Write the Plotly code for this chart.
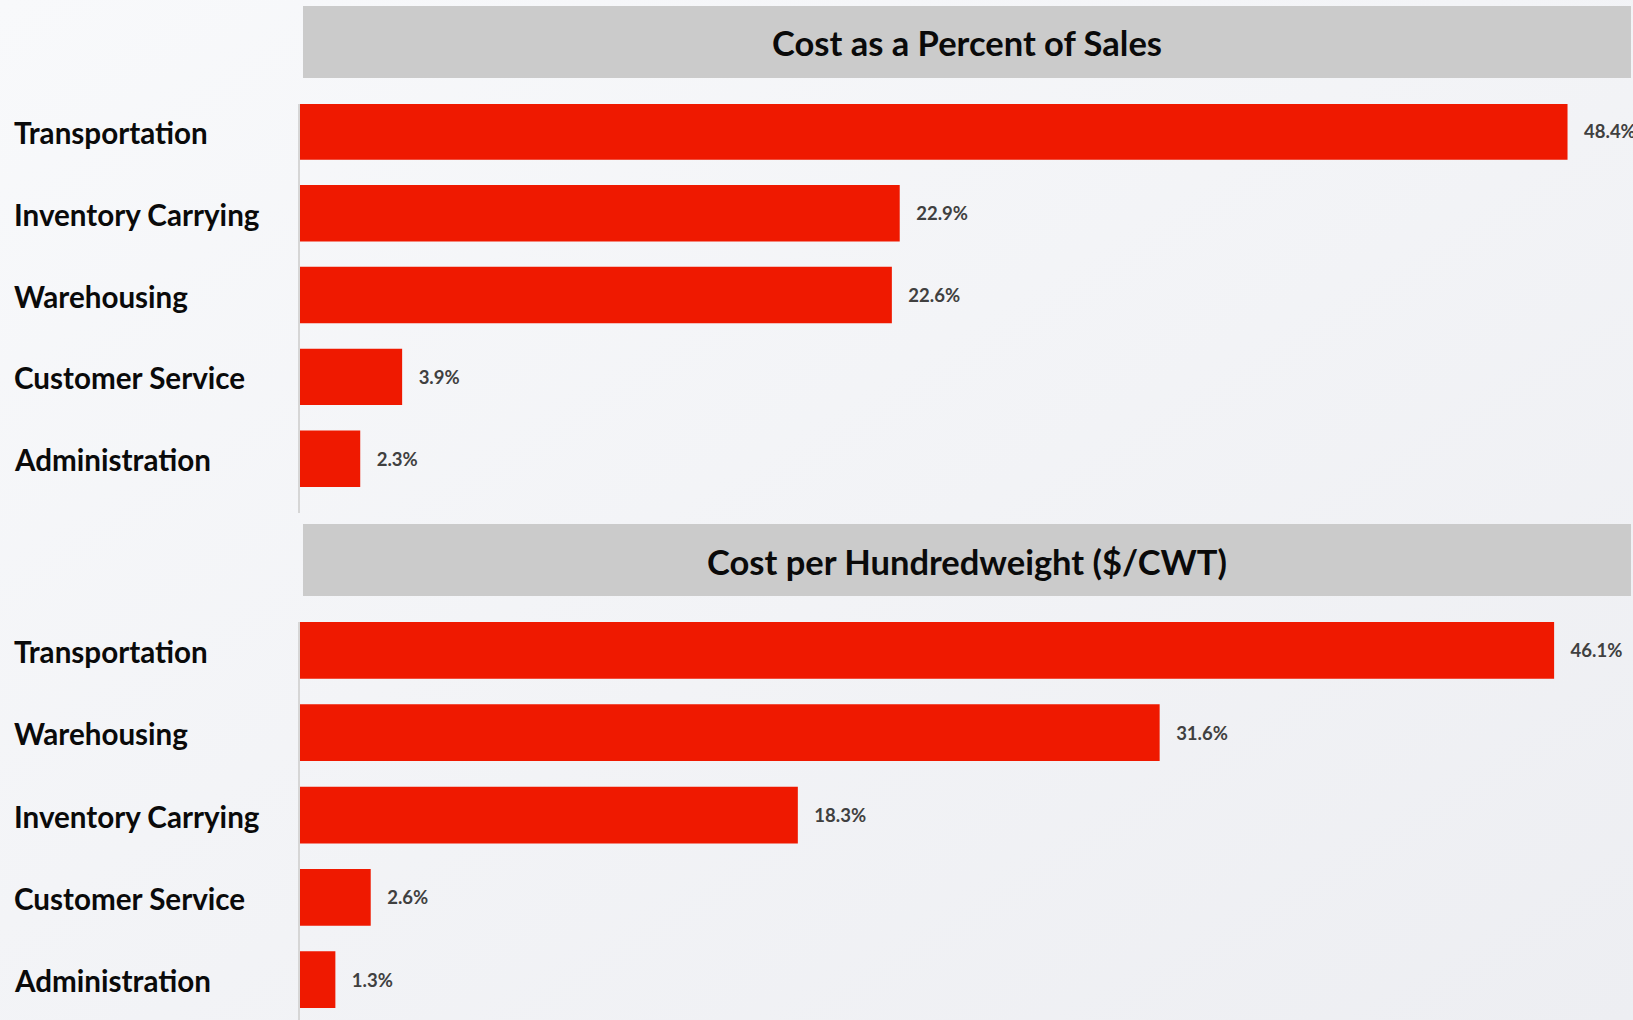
import plotly.graph_objects as go

W, H = 1633, 1020

top_title = "Cost as a Percent of Sales"
top_categories = ["Transportation", "Inventory Carrying", "Warehousing", "Customer Service", "Administration"]
top_values = [48.4, 22.9, 22.6, 3.9, 2.3]

bottom_title = "Cost per Hundredweight ($/CWT)"
bottom_categories = ["Transportation", "Warehousing", "Inventory Carrying", "Customer Service", "Administration"]
bottom_values = [46.1, 31.6, 18.3, 2.6, 1.3]

BAR_COLOR = "#EF1900"
BG = "#F3F4F7"
FONT = "Lato"

BG_SVG = (
    "data:image/svg+xml;utf8,"
    "<svg xmlns='http://www.w3.org/2000/svg' width='100' height='100' preserveAspectRatio='none'>"
    "<defs><linearGradient id='g' x1='0' y1='0' x2='1' y2='1'>"
    "<stop offset='0' stop-color='%23F8F9FB'/><stop offset='1' stop-color='%23EDEEF2'/>"
    "</linearGradient></defs><rect width='100' height='100' fill='url(%23g)'/></svg>"
)


def px(x):
    return x / W


def py(y):
    return 1 - y / H


fig = go.Figure()

for cats, vals, xa, ya in [
    (top_categories, top_values, "x", "y"),
    (bottom_categories, bottom_values, "x2", "y2"),
]:
    fig.add_trace(go.Bar(
        y=cats, x=vals, orientation="h",
        marker=dict(color=BAR_COLOR, line=dict(width=0)),
        texttemplate="\u00a0\u00a0\u00a0%{x:.1f}%", textposition="outside",
        textfont=dict(family=FONT, size=18.5, color="#404040", weight="bold"),
        cliponaxis=False, constraintext="none",
        xaxis=xa, yaxis=ya, showlegend=False, hoverinfo="skip",
    ))

axis_common_x = dict(visible=False, showgrid=False, zeroline=False, fixedrange=True)
axis_common_y = dict(type="category", showticklabels=False, showgrid=False, zeroline=False,
                     ticks="", showline=True, linecolor="#D6D6D6", linewidth=2, fixedrange=True)

annotations = []
shapes = []

for cats, title, yref, ttop, tbot in [
    (top_categories, top_title, "y", 6, 78),
    (bottom_categories, bottom_title, "y2", 524, 596),
]:
    for c in cats:
        annotations.append(dict(
            x=px(12), xref="paper", xanchor="left", y=c, yref=yref, yanchor="middle",
            yshift=-1,
            text=c, showarrow=False,
            font=dict(family=FONT, size=29.6, color="#0A0A0A", weight="bold"),
        ))
    shapes.append(dict(type="rect", xref="paper", yref="paper",
                       x0=px(303), x1=px(1631), y0=py(tbot), y1=py(ttop),
                       fillcolor="#CBCBCB", line=dict(width=0), layer="below"))
    annotations.append(dict(
        x=px((303 + 1631) / 2), xref="paper", xanchor="center",
        y=py((ttop + tbot) / 2 + 1), yref="paper", yanchor="middle",
        text=title, showarrow=False,
        font=dict(family=FONT, size=34.5, color="#0A0A0A", weight="bold"),
    ))

fig.update_layout(
    width=W, height=H,
    margin=dict(l=0, r=0, t=0, b=0),
    paper_bgcolor=BG, plot_bgcolor="rgba(0,0,0,0)",
    bargap=0.31,
    xaxis=dict(domain=[px(300), 1], range=[0, 50.9], anchor="y", **axis_common_x),
    yaxis=dict(domain=[py(513), py(104)], range=[4.664, -0.336], anchor="x",
               categoryorder="array", categoryarray=top_categories, **axis_common_y),
    xaxis2=dict(domain=[px(300), 1], range=[0, 49.0], anchor="y2", **axis_common_x),
    yaxis2=dict(domain=[py(1020), py(622)], range=[4.49, -0.345], anchor="x2",
                categoryorder="array", categoryarray=bottom_categories, **axis_common_y),
    annotations=annotations,
    shapes=shapes,
    images=[dict(source=BG_SVG, xref="paper", yref="paper", x=0, y=1, sizex=1, sizey=1,
                 xanchor="left", yanchor="top", sizing="stretch", layer="below")],
)

fig.write_html(
    "out.html",
    config={"displayModeBar": False, "staticPlot": True},
    post_script="document.body.style.margin='0';document.body.style.overflow='hidden';",
)
